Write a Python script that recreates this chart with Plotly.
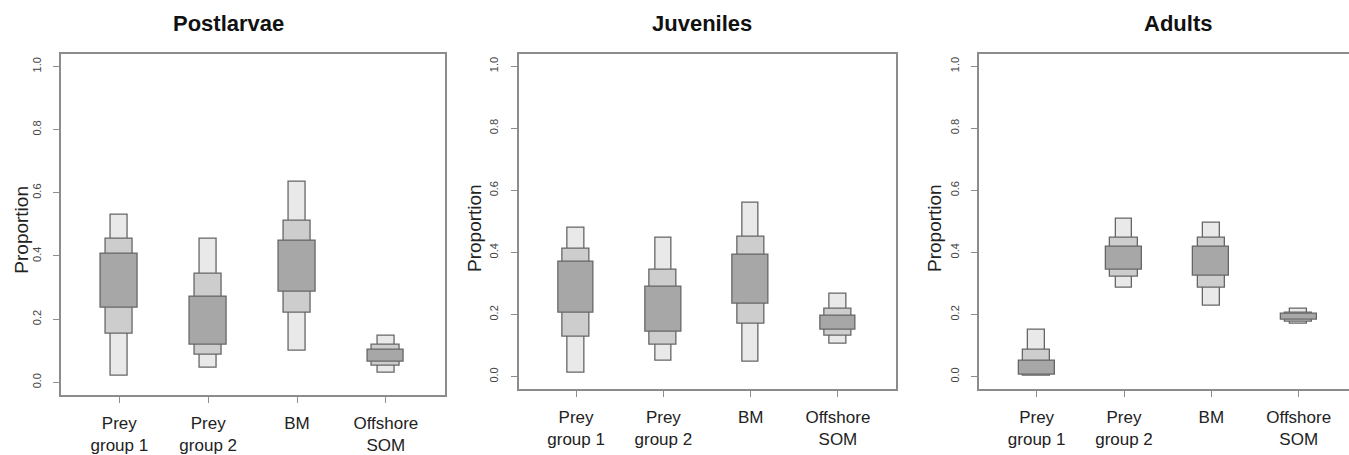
import plotly.graph_objects as go

# Source categories and panel titles
categories = ["Prey<br>group 1", "Prey<br>group 2", "BM", "Offshore<br>SOM"]
panels = ["Postlarvae", "Juveniles", "Adults"]

# Credible intervals of dietary proportions (lower, upper) per panel
# 95% intervals
ci95_low = {
    "Postlarvae": [0.022, 0.046, 0.101, 0.029],
    "Juveniles": [0.013, 0.052, 0.048, 0.107],
    "Adults": [0.005, 0.285, 0.229, 0.171],
}
ci95_high = {
    "Postlarvae": [0.530, 0.455, 0.636, 0.148],
    "Juveniles": [0.479, 0.446, 0.560, 0.266],
    "Adults": [0.150, 0.507, 0.496, 0.218],
}
# 75% intervals
ci75_low = {
    "Postlarvae": [0.154, 0.088, 0.220, 0.052],
    "Juveniles": [0.127, 0.102, 0.171, 0.133],
    "Adults": [0.004, 0.322, 0.287, 0.177],
}
ci75_high = {
    "Postlarvae": [0.455, 0.343, 0.511, 0.120],
    "Juveniles": [0.413, 0.343, 0.452, 0.218],
    "Adults": [0.085, 0.448, 0.446, 0.205],
}
# 50% intervals
ci50_low = {
    "Postlarvae": [0.237, 0.118, 0.286, 0.066],
    "Juveniles": [0.207, 0.144, 0.235, 0.150],
    "Adults": [0.007, 0.344, 0.324, 0.183],
}
ci50_high = {
    "Postlarvae": [0.406, 0.271, 0.448, 0.103],
    "Juveniles": [0.369, 0.288, 0.394, 0.195],
    "Adults": [0.052, 0.418, 0.417, 0.201],
}

y_ticks = [0.0, 0.2, 0.4, 0.6, 0.8, 1.0]

FONT = "Liberation Sans, Arial, Helvetica, sans-serif"
W, H = 1349, 455

# panel frames in pixels: (left, right, top, bottom, x range max)
frames = [
    (60.7, 444.5, 54.0, 396.7, 3.66),
    (518.5, 895.5, 54.0, 390.7, 3.66),
    (979.0, 1349.0, 54.0, 390.7, 3.576),
]
title_x = [228, 702, 1178]
ylabel_x = [21.7, 475, 935]
ylabel_y = [231, 229, 229]

levels = [
    ("95%", ci95_low, ci95_high, 0.19, "#e9e9e9"),
    ("75%", ci75_low, ci75_high, 0.31, "#cdcdcd"),
    ("50%", ci50_low, ci50_high, 0.41, "#a7a7a7"),
]

fig = go.Figure()
layout = dict(
    width=W, height=H, margin=dict(l=0, r=0, t=0, b=0),
    plot_bgcolor="white", paper_bgcolor="white",
    showlegend=False, barmode="overlay", bargap=0,
    font=dict(family=FONT, color="#222222"),
)

annotations = []
for i, name in enumerate(panels):
    left, right, top, bottom, xmax = frames[i]
    xa = "x" if i == 0 else f"x{i + 1}"
    ya = "y" if i == 0 else f"y{i + 1}"
    for label, lo, hi, width, color in levels:
        base = lo[name]
        height = [h - l for l, h in zip(lo[name], hi[name])]
        fig.add_trace(go.Bar(
            x=categories, y=height, base=base, width=width,
            marker=dict(color=color, line=dict(color="#666666", width=1.3)),
            xaxis=xa, yaxis=ya, name=label, hoverinfo="skip",
        ))
    xkey = "xaxis" if i == 0 else f"xaxis{i + 1}"
    ykey = "yaxis" if i == 0 else f"yaxis{i + 1}"
    layout[xkey] = dict(
        domain=[left / W, right / W], anchor=ya,
        type="category", range=[-0.66, xmax],
        showline=True, linecolor="#8c8c8c", linewidth=1.6, mirror=True,
        ticks="outside", ticklen=6, tickcolor="#8c8c8c", tickwidth=1.2,
        ticklabelstandoff=6,
        tickfont=dict(size=17, color="#222222"),
        showgrid=False, zeroline=False, fixedrange=True,
    )
    layout[ykey] = dict(
        domain=[1 - bottom / H, 1 - top / H], anchor=xa,
        range=[-0.04, 1.04], tickvals=y_ticks,
        ticktext=[f"{v:.1f}" for v in y_ticks],
        tickangle=-90,
        showline=True, linecolor="#8c8c8c", linewidth=1.6,
        mirror=(i < 2),
        ticks="outside", ticklen=6, tickcolor="#8c8c8c", tickwidth=1.2,
        ticklabelstandoff=8,
        tickfont=dict(size=11, color="#444444"),
        showgrid=False, zeroline=False, fixedrange=True,
    )
    # panel title
    annotations.append(dict(
        text=f"<b>{name}</b>", x=title_x[i] / W, y=1 - 24 / H,
        xref="paper", yref="paper", xanchor="center", yanchor="middle",
        showarrow=False, font=dict(size=22, color="#111111", family=FONT),
    ))
    # y-axis label
    annotations.append(dict(
        text="Proportion", x=ylabel_x[i] / W, y=1 - ylabel_y[i] / H,
        xref="paper", yref="paper", xanchor="center", yanchor="middle",
        textangle=-90, showarrow=False,
        font=dict(size=19, color="#222222", family=FONT),
    ))

layout["annotations"] = annotations
fig.update_layout(**layout)
fig.write_html("out.html")
